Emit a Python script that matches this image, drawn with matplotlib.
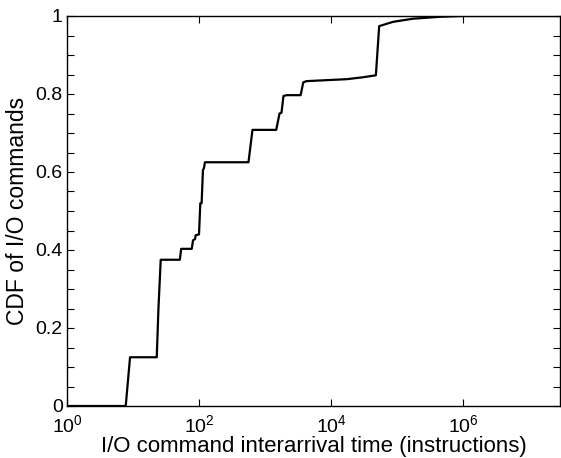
import math
import matplotlib
matplotlib.use("Agg")
import matplotlib.pyplot as plt
from matplotlib.ticker import FixedLocator, MultipleLocator, FuncFormatter

plt.rcParams['font.family'] = ['Liberation Sans', 'DejaVu Sans']
plt.rcParams['mathtext.fontset'] = 'custom'
plt.rcParams['mathtext.rm'] = 'Liberation Sans'
plt.rcParams['mathtext.it'] = 'Liberation Sans'

# interarrival time (instructions) and CDF
interarrival = [1, 7.76, 9.02, 22.9, 24.3, 26.3, 51.3, 53.7, 77.6, 81.3, 87.1, 89.1,
                100, 104.7, 109.6, 114.8, 118.9, 123, 562, 646, 1479, 1660, 1778,
                1905, 2138, 3467, 3802, 4266, 17378, 30903, 47863, 53703, 87096,
                173780, 446684, 954993, 2.95e7]
cdf = [0, 0, 0.125, 0.125, 0.25, 0.375, 0.375, 0.403, 0.403, 0.425, 0.428, 0.438,
       0.44, 0.52, 0.52, 0.605, 0.61, 0.625, 0.625, 0.708, 0.708, 0.75, 0.752,
       0.795, 0.797, 0.797, 0.83, 0.833, 0.838, 0.843, 0.848, 0.974, 0.985,
       0.993, 0.998, 1.0, 1.0]

x_ticks = [1, 1e2, 1e4, 1e6]
y_ticks = [0, 0.2, 0.4, 0.6, 0.8, 1]
x_label = "I/O command interarrival time (instructions)"
y_label = "CDF of I/O commands"

fig = plt.figure(figsize=(5.61, 4.58), dpi=100)
ax = fig.add_axes([67/561, 1-406/458, (560-67)/561, (406-16)/458])
ax.semilogx(interarrival, cdf, color='black', lw=1.6)
ax.set_xlim(1, 2.95e7)
ax.set_ylim(0, 1)

ax.xaxis.set_major_locator(FixedLocator(x_ticks))
ax.xaxis.set_minor_locator(FixedLocator([]))
ax.xaxis.set_major_formatter(FuncFormatter(lambda v, p: r'$10^{%d}$' % round(math.log10(v))))
ax.yaxis.set_major_locator(FixedLocator(y_ticks))
ax.yaxis.set_minor_locator(MultipleLocator(0.05))
ax.yaxis.set_major_formatter(FuncFormatter(lambda v, p: ('%g' % v)))

ax.tick_params(which='both', direction='in', top=True, right=True, length=5, width=0.8,
               labelsize=14)
ax.tick_params(axis='y', pad=3)
ax.tick_params(axis='x', pad=6)
for s in ax.spines.values():
    s.set_linewidth(1.0)

ax.set_xlabel(x_label, fontsize=16, labelpad=0)
ax.set_ylabel(y_label, fontsize=16.5, labelpad=5)

fig.savefig("out.png", dpi=100)
